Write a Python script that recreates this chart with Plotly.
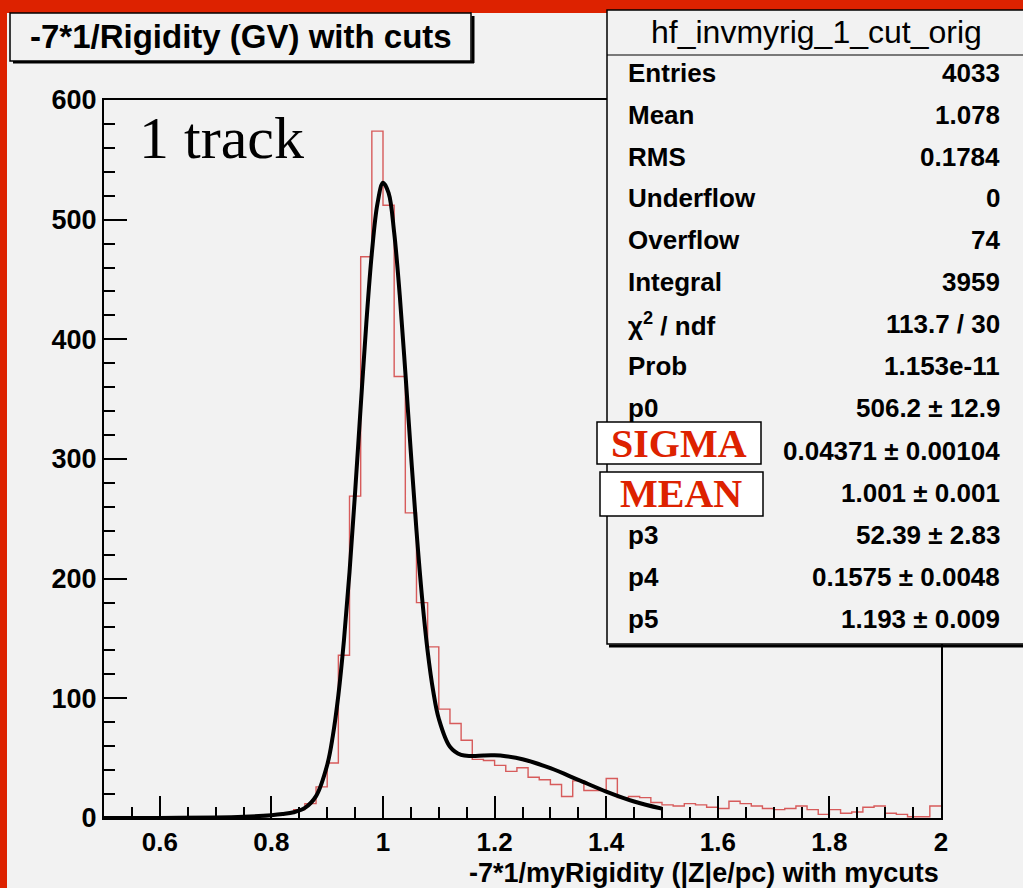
import plotly.graph_objects as go

# ---------------- data ----------------
bin_low = 0.5
bin_width = 0.02
counts = [0, 0, 0, 0, 0, 0, 0, 0, 0, 1, 0, 1, 1, 2, 2,
          3, 4, 7, 12, 26, 46, 136, 269, 469, 574,
          512, 369, 255, 180, 143, 91, 79, 65, 49, 48,
          44, 39, 42, 34, 32, 28, 18, 31, 23, 23,
          33, 17, 18, 17, 13, 11, 10, 12, 11, 9,
          8, 14, 12, 10, 8, 7, 8, 10, 7, 3,
          7, 4, 5, 9, 10, 4, 3, 1, 1, 10]

fit_x = [0.5, 0.6, 0.7, 0.75, 0.8, 0.82, 0.84, 0.86, 0.88, 0.90, 0.91, 0.92, 0.93, 0.94,
         0.95, 0.96, 0.97, 0.98, 0.99, 1.00, 1.01, 1.02, 1.03, 1.04, 1.05, 1.06, 1.07,
         1.08, 1.09, 1.10, 1.12, 1.14, 1.16, 1.18, 1.20, 1.22, 1.25, 1.30, 1.35, 1.40,
         1.45, 1.50]
fit_y = [0.0, 0.04, 0.39, 1.0, 2.34, 3.28, 4.82, 8.39, 18.25, 44.3, 68.3, 102.6, 148.4, 205.5,
         272.2, 343.5, 412.8, 472.0, 513.2, 530.8, 522.3, 489.2, 436.9, 372.7, 304.8, 240.2, 184.2,
         139.4, 106.0, 82.9, 59.5, 52.7, 51.9, 52.3, 52.35, 51.6, 49.1, 41.6, 31.9, 22.1,
         13.8, 7.8]

x_tick_vals = [0.6, 0.8, 1.0, 1.2, 1.4, 1.6, 1.8, 2.0]
x_tick_text = ["0.6", "0.8", "1", "1.2", "1.4", "1.6", "1.8", "2"]
y_tick_vals = [0, 100, 200, 300, 400, 500, 600]

stat_labels = ["Entries", "Mean", "RMS", "Underflow", "Overflow", "Integral",
               "\u03c7<sup>2</sup> / ndf", "Prob", "p0", "p1", "p2", "p3", "p4", "p5"]
stat_values = ["4033", "1.078", "0.1784", "0", "74", "3959", "113.7 / 30", "1.153e-11",
               "506.2 \u00b1 12.9", "0.04371 \u00b1 0.00104", "1.001 \u00b1 0.001",
               "52.39 \u00b1 2.83", "0.1575 \u00b1 0.0048", "1.193 \u00b1 0.009"]
# parameter labels hidden behind the SIGMA / MEAN boxes in the picture
hidden_labels = {"p1", "p2"}

# ---------------- geometry helpers (pixels -> paper) ----------------
W, H = 1023, 888
L, R, T, B = 104, 941, 100, 818


def px(x):
    return (x - L) / (R - L)


def py(y):
    return (B - y) / (B - T)


edges = [round(bin_low + i * bin_width, 2) for i in range(len(counts) + 1)]
step_y = counts + [counts[-1]]

BG = "#f2f2f2"
RED = "#dd2200"
SANS = "Liberation Sans, Arial, sans-serif"
SERIF = "Liberation Serif, Times New Roman, serif"

fig = go.Figure()
fig.add_trace(go.Scatter(x=edges, y=step_y, mode="lines", line_shape="hv",
                         line=dict(color="rgba(205,40,40,0.75)", width=1.4),
                         hoverinfo="skip", showlegend=False))
fig.add_trace(go.Scatter(x=fit_x, y=fit_y, mode="lines", line_shape="spline",
                         line=dict(color="black", width=4),
                         hoverinfo="skip", showlegend=False))

minor_x = [round(0.5 + 0.05 * i, 2) for i in range(31)]
minor_y = list(range(0, 601, 20))

fig.update_layout(
    width=W, height=H,
    margin=dict(l=L, r=W - R, t=T, b=H - B),
    paper_bgcolor=BG, plot_bgcolor=BG,
    showlegend=False,
    xaxis=dict(range=[0.5, 2.0], showgrid=False, zeroline=False,
               tickmode="array", tickvals=x_tick_vals, ticktext=x_tick_text,
               ticks="inside", ticklen=22, tickwidth=1.5, tickcolor="black",
               minor=dict(tickmode="array", tickvals=minor_x, ticks="inside",
                          ticklen=11, tickwidth=1.5, tickcolor="black", showgrid=False),
               showline=True, linecolor="black", linewidth=2, mirror=True,
               tickfont=dict(family=SANS, size=26, color="black", weight="bold"),
               ticklabelstandoff=0),
    yaxis=dict(range=[0, 600], showgrid=False, zeroline=False,
               tickmode="array", tickvals=y_tick_vals,
               ticks="inside", ticklen=23, tickwidth=1.5, tickcolor="black",
               minor=dict(tickmode="array", tickvals=minor_y, ticks="inside",
                          ticklen=11, tickwidth=1.5, tickcolor="black", showgrid=False),
               showline=True, linecolor="black", linewidth=2, mirror=True,
               tickfont=dict(family=SANS, size=27, color="black", weight="bold"),
               ticklabelstandoff=0),
)

shapes = []


def rect(x0, y0, x1, y1, fill, line_color="black", lw=1.5):
    shapes.append(dict(type="rect", xref="paper", yref="paper",
                       x0=px(x0), x1=px(x1), y0=py(y1), y1=py(y0),
                       fillcolor=fill, line=dict(color=line_color, width=lw),
                       layer="above"))


def seg(x0, y0, x1, y1, lw=1.5, color="black"):
    shapes.append(dict(type="line", xref="paper", yref="paper",
                       x0=px(x0), x1=px(x1), y0=py(y0), y1=py(y1),
                       line=dict(color=color, width=lw), layer="above"))


# red frame
rect(0, 0, 7, 888, RED, line_color=RED, lw=0)
rect(0, 0, 1023, 13, RED, line_color=RED, lw=0)

# title box with shadow
seg(473, 16, 473, 63, lw=3)
seg(13, 62, 474, 62, lw=3)
rect(10, 13, 471, 61, BG)

# stats box with shadow
seg(609, 646, 1023, 646, lw=3)
rect(607, 10, 1030, 644, BG)
seg(607, 55, 1023, 55, lw=1.2)

# SIGMA / MEAN boxes
rect(597, 422, 761, 464, "white")
rect(600, 472, 763, 516, "white")

annotations = []


def text(x, y, s, size, xanchor="left", family=SANS, color="black", bold=True):
    annotations.append(dict(xref="paper", yref="paper", x=px(x), y=py(y), text=s,
                            showarrow=False, xanchor=xanchor, yanchor="middle",
                            font=dict(family=family, size=size, color=color,
                                      weight="bold" if bold else "normal")))


text(241, 37, "-7*1/Rigidity (GV) with cuts", 33, xanchor="center")
text(816, 32, "hf_invmyrig_1_cut_orig", 32, xanchor="center", bold=False)

row_y = [73, 115, 157, 198, 240, 282, 324, 366, 408, 451, 493, 535, 577, 619]
for lab, val, yy in zip(stat_labels, stat_values, row_y):
    if lab not in hidden_labels:
        text(626, yy, lab, 26)
    text(1002, yy, val, 26, xanchor="right")

text(679, 443, "SIGMA", 40, xanchor="center", family=SERIF, color=RED)
text(681, 494, "MEAN", 40, xanchor="center", family=SERIF, color=RED)

text(137, 138, "1 track", 60, family=SERIF, bold=False)

text(941, 873, "-7*1/myRigidity (|Z|e/pc) with mycuts", 27, xanchor="right")

fig.update_layout(shapes=shapes, annotations=annotations)
fig.write_html("out.html")
